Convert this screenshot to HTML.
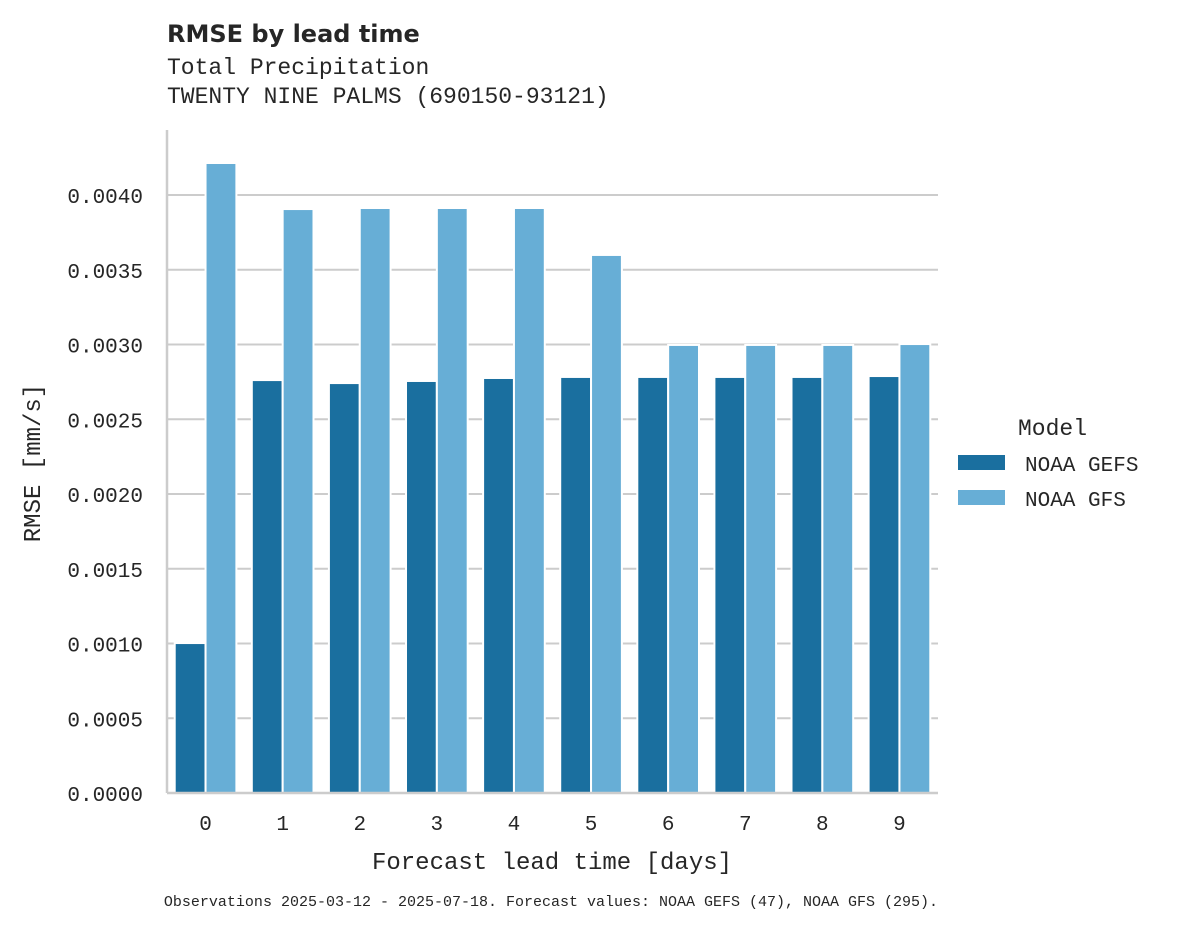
<!DOCTYPE html>
<html><head><meta charset="utf-8"><style>
body{margin:0;background:#fff;}
svg text{font-family:"Liberation Mono","DejaVu Sans Mono",monospace;fill:#262626;}
</style></head><body>
<svg id="chart" width="1178" height="928" xmlns="http://www.w3.org/2000/svg">
<text x="167" y="42" style="font-family:'DejaVu Sans','Liberation Sans',sans-serif;font-weight:bold;font-size:24px">RMSE by lead time</text>
<text x="167" y="74" font-size="23">Total Precipitation</text>
<text x="167" y="103" font-size="23">TWENTY NINE PALMS (690150-93121)</text>
<g id="grid"></g><g id="bars"></g><g id="axes"></g>
<text x="552" y="869" font-size="24" text-anchor="middle">Forecast lead time [days]</text>
<text transform="translate(40,463) rotate(-90)" font-size="24" text-anchor="middle">RMSE [mm/s]</text>
<g>
<text x="1018" y="435" font-size="23">Model</text>
<rect x="958" y="455" width="47" height="15" fill="#1a6f9f"/>
<text x="1025" y="471" font-size="21">NOAA GEFS</text>
<rect x="958" y="490" width="47" height="15" fill="#67aed6"/>
<text x="1025" y="506" font-size="21">NOAA GFS</text>
</g>
<text x="551" y="906" font-size="15" text-anchor="middle">Observations 2025-03-12 - 2025-07-18. Forecast values: NOAA GEFS (47), NOAA GFS (295).</text>
</svg>
<script>
const categories=["0","1","2","3","4","5","6","7","8","9"];
const gefs=[0.001003,0.002762,0.002742,0.002756,0.002776,0.002783,0.002783,0.002783,0.002783,0.002789];
const gfs=[0.004214,0.003906,0.003913,0.003913,0.003913,0.003599,0.002997,0.002997,0.002997,0.003003];
const yTicks=[0,0.0005,0.001,0.0015,0.002,0.0025,0.003,0.0035,0.004];
const NS="http://www.w3.org/2000/svg";
const x0=167,x1=938,yb=793,yt=195;
const y=v=>yb-(v/0.004)*(yb-yt);
const bw=(x1-x0)/categories.length;
const gx=i=>x0+bw*(i+0.5);
function mk(tag,attrs,parent){const e=document.createElementNS(NS,tag);for(const k in attrs)e.setAttribute(k,attrs[k]);parent.appendChild(e);return e;}
const grid=document.getElementById('grid'),bars=document.getElementById('bars'),axes=document.getElementById('axes');
yTicks.forEach(t=>{
 const l=mk('line',{x1:x0,x2:x1,y1:y(t),y2:y(t),stroke:'#cccccc','stroke-width':2},grid);
 
 
 const tx=mk('text',{x:143,y:y(t)+8,'font-size':21,'text-anchor':'end'},axes);
 tx.textContent=t.toFixed(4);
 
 
});
categories.forEach((c,i)=>{
 const cx=gx(i),w=bw*0.8/2;
 const a=mk('rect',{x:cx-w,y:y(gefs[i]),width:w,height:yb-y(gefs[i]),fill:'#1a6f9f',stroke:'#fff','stroke-width':2},bars);
 
 
 const b=mk('rect',{x:cx,y:y(gfs[i]),width:w,height:yb-y(gfs[i]),fill:'#67aed6',stroke:'#fff','stroke-width':2},bars);
 
 
 const t=mk('text',{x:cx,y:830,'font-size':21,'text-anchor':'middle'},axes);
 t.textContent=c;
 
 
});
const ax=mk('line',{x1:x0,x2:x1,y1:yb,y2:yb,stroke:'#cccccc','stroke-width':2.5},axes);


const ay=mk('line',{x1:x0,x2:x0,y1:130,y2:yb,stroke:'#cccccc','stroke-width':2.5},axes);


</script>
</body></html>
